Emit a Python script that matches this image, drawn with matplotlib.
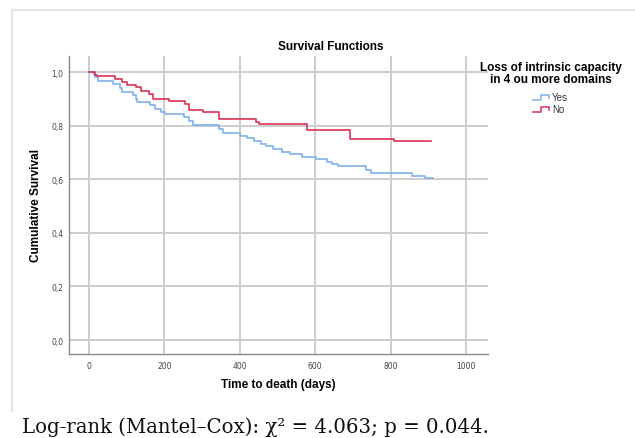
import matplotlib
matplotlib.use("Agg")
import matplotlib.pyplot as plt
from matplotlib.lines import Line2D

# ---- data (days, cumulative survival) ----
yes_time = [0, 12, 16, 25, 63, 82, 87, 116, 125, 128, 162, 175, 190, 201,
            252, 266, 275, 345, 356, 400, 420, 438, 456, 469, 487, 513,
            533, 566, 601, 632, 645, 661, 734, 749, 857, 890, 912]
yes_surv = [1.0, 0.99, 0.98, 0.968, 0.955, 0.939, 0.927, 0.914, 0.90,
            0.889, 0.877, 0.864, 0.852, 0.843, 0.831, 0.818, 0.802, 0.787,
            0.772, 0.762, 0.753, 0.744, 0.733, 0.723, 0.713, 0.703, 0.693,
            0.684, 0.675, 0.665, 0.657, 0.648, 0.636, 0.623, 0.613, 0.603,
            0.603]

no_time = [0, 16, 20, 69, 87, 100, 124, 139, 160, 169, 213, 254, 266, 303,
           345, 442, 451, 577, 691, 809, 906]
no_surv = [1.0, 0.99, 0.984, 0.974, 0.964, 0.953, 0.943, 0.93, 0.92, 0.90,
           0.892, 0.88, 0.858, 0.85, 0.825, 0.815, 0.805, 0.784, 0.752,
           0.741, 0.741]

groups = ["Yes", "No"]
colors = ["#7fb2ec", "#da3158"]

x_ticks = [0, 200, 400, 600, 800, 1000]
y_ticks = [0.0, 0.2, 0.4, 0.6, 0.8, 1.0]
y_tick_labels = ["0,0", "0,2", "0,4", "0,6", "0,8", "1,0"]

W, H = 635, 439
fig = plt.figure(figsize=(W / 100, H / 100), dpi=100)

# light frame around the chart
fig.add_artist(Line2D([12 / W, 1.0], [1 - 11 / H, 1 - 11 / H], color="#e4e4e4", lw=1.5))
fig.add_artist(Line2D([12 / W, 12 / W], [1 - 11 / H, 1 - 412 / H], color="#e4e4e4", lw=1.5))

ax = fig.add_axes([69 / W, 1 - 355 / H, (488 - 69) / W, (355 - 57) / H])
ax.set_xlim(-53, 1058)
ax.set_ylim(-0.052, 1.06)

ax.set_xticks(x_ticks)
ax.set_yticks(y_ticks)
ax.set_yticklabels(y_tick_labels)
ax.tick_params(length=0, labelsize=5.5, labelcolor="#444444", pad=5)
ax.tick_params(axis="y", pad=4)
ax.grid(True, color="#cdcdcd", lw=1.4)
ax.set_axisbelow(True)
for s in ["top", "right"]:
    ax.spines[s].set_visible(False)
for s in ["left", "bottom"]:
    ax.spines[s].set_color("#8a8a8a")
    ax.spines[s].set_linewidth(1.0)

ax.step(yes_time, yes_surv, where="post", color=colors[0], lw=1.2)
ax.step(no_time, no_surv, where="post", color=colors[1], lw=1.2)

lab = dict(fontsize=8.5, fontweight="bold", family="Liberation Sans")
fig.text(331 / W, 1 - 47 / H, "Survival Functions", ha="center", va="center", **lab)
fig.text(278 / W, 1 - 385 / H, "Time to death (days)", ha="center", va="center", **lab)
fig.text(36 / W, 1 - 206 / H, "Cumulative Survival", ha="center", va="center", rotation=90, **lab)

# legend, drawn by hand to get the little step glyphs
fig.text(551 / W, 1 - 74 / H, "Loss of intrinsic capacity\nin 4 ou more domains",
         ha="center", va="center", linespacing=0.95, **lab)
for i, (g, c) in enumerate(zip(groups, colors)):
    yc = 98 + i * 12
    xs = [533, 541, 541, 549, 549]
    ys = [yc + 2.5, yc + 2.5, yc - 2.5, yc - 2.5, yc + 0.5]
    fig.add_artist(Line2D([v / W for v in xs], [1 - v / H for v in ys], color=c, lw=1.1))
    fig.text(552 / W, 1 - yc / H, g, ha="left", va="center", fontsize=7,
             color="#333333", family="Liberation Sans")

fig.text(22 / W, 1 - 427 / H, "Log-rank (Mantel\u2013Cox): \u03c7\u00b2 = 4.063; p = 0.044.",
         ha="left", va="center", fontsize=14.2, family="DejaVu Serif", color="#111111")

fig.savefig("out.png", dpi=100)
